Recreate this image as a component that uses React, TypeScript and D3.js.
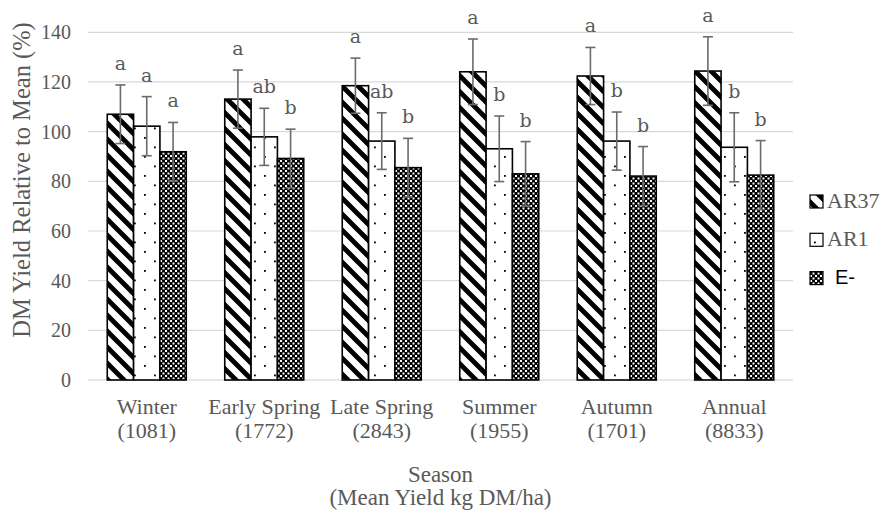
import React from 'react';
import * as d3 from 'd3';

const categories = ['Winter', 'Early Spring', 'Late Spring', 'Summer', 'Autumn', 'Annual'];
const meanYields = ['(1081)', '(1772)', '(2843)', '(1955)', '(1701)', '(8833)'];
const seriesNames = ['AR37', 'AR1', 'E-'];

const ar37Values = [107.0, 113.1, 118.5, 124.1, 122.4, 124.4];
const ar37Errors = [11.8, 11.7, 11.1, 13.2, 11.5, 13.8];
const ar37Letters = ['a', 'a', 'a', 'a', 'a', 'a'];

const ar1Values = [102.2, 97.9, 96.2, 93.1, 96.2, 93.7];
const ar1Errors = [11.9, 11.5, 11.4, 13.2, 11.7, 13.9];
const ar1Letters = ['a', 'ab', 'ab', 'b', 'b', 'b'];

const eMinusValues = [91.9, 89.2, 85.5, 83.0, 82.1, 82.5];
const eMinusErrors = [11.8, 11.8, 11.8, 13.0, 11.9, 13.9];
const eMinusLetters = ['a', 'b', 'b', 'b', 'b', 'b'];

const yTicks = [0, 20, 40, 60, 80, 100, 120, 140];

const xTitle = ['Season', '(Mean Yield kg DM/ha)'];
const yTitle = 'DM Yield Relative to Mean (%)';

const W = 882;
const H = 510;
const PLOT = { left: 88, right: 793, top: 32.3, bottom: 380 };
const GROUP_W = 79;
const GREY = '#595959';
const SERIF = '"Liberation Serif", "Times New Roman", serif';
const SANS = '"Liberation Sans", Arial, sans-serif';
const LETTER_FONT = '"DejaVu Serif", Cambria, serif';
const fills = ['url(#pAR37)', 'url(#pAR1)', 'url(#pE)'];

const series = [
  { name: seriesNames[0], values: ar37Values, errors: ar37Errors, letters: ar37Letters },
  { name: seriesNames[1], values: ar1Values, errors: ar1Errors, letters: ar1Letters },
  { name: seriesNames[2], values: eMinusValues, errors: eMinusErrors, letters: eMinusLetters },
];

export default function App() {
  const x0 = d3.scaleBand<string>().domain(categories).range([PLOT.left, PLOT.right]).padding(0);
  const bw = x0.bandwidth();
  const x1 = d3
    .scaleBand<string>()
    .domain(seriesNames)
    .range([(bw - GROUP_W) / 2, (bw + GROUP_W) / 2])
    .padding(0);
  const y = d3.scaleLinear().domain([0, 140]).range([PLOT.bottom, PLOT.top]);

  return (
    <svg
      width={W}
      height={H}
      style={{ position: 'absolute', left: 0, top: 0, background: '#fff' }}
      xmlns="http://www.w3.org/2000/svg"
    >
      <defs>
        <pattern id="pAR37" patternUnits="userSpaceOnUse" width={16} height={16}>
          <rect width={16} height={16} fill="#fff" />
          <path
            d="M-4,-4 L20,20 M-4,12 L4,20 M12,-4 L20,4"
            stroke="#000"
            strokeWidth={4.8}
            fill="none"
          />
        </pattern>
        <pattern id="pAR1" patternUnits="userSpaceOnUse" width={20} height={19}>
          <rect width={20} height={19} fill="#fff" />
          <rect x={4} y={4} width={1.8} height={1.8} fill="#000" />
          <rect x={14} y={13.5} width={1.8} height={1.8} fill="#000" />
        </pattern>
        <pattern id="pE" patternUnits="userSpaceOnUse" width={5} height={5}>
          <rect width={5} height={5} fill="#000" />
          <rect x={0} y={0} width={2} height={2} fill="#fff" />
          <rect x={2.5} y={2.5} width={2} height={2} fill="#fff" />
        </pattern>
      </defs>

      {/* gridlines */}
      {yTicks.map((t) => (
        <line
          key={'g' + t}
          x1={PLOT.left}
          x2={PLOT.right}
          y1={y(t)}
          y2={y(t)}
          stroke={t === 0 ? '#d0d0d0' : '#d9d9d9'}
          strokeWidth={1.2}
        />
      ))}

      {/* y tick labels */}
      {yTicks.map((t) => (
        <text
          key={'t' + t}
          x={71}
          y={y(t)}
          dy="0.35em"
          textAnchor="end"
          fontFamily={SERIF}
          fontSize={20}
          fill={GREY}
        >
          {t}
        </text>
      ))}

      {/* bars */}
      {series.map((s, si) =>
        categories.map((c, ci) => {
          const bx = (x0(c) as number) + (x1(s.name) as number);
          const v = s.values[ci];
          return (
            <rect
              key={s.name + c}
              x={bx}
              y={y(v)}
              width={x1.bandwidth()}
              height={y(0) - y(v)}
              fill={fills[si]}
              stroke="#000"
              strokeWidth={1.6}
            />
          );
        })
      )}

      {/* error bars */}
      {series.map((s) =>
        categories.map((c, ci) => {
          const cx = (x0(c) as number) + (x1(s.name) as number) + x1.bandwidth() / 2;
          const v = s.values[ci];
          const e = s.errors[ci];
          return (
            <g key={'e' + s.name + c} stroke="#6b6b6b" strokeWidth={1.6}>
              <line x1={cx} x2={cx} y1={y(v - e)} y2={y(v + e)} />
              <line x1={cx - 5} x2={cx + 5} y1={y(v + e)} y2={y(v + e)} />
              <line x1={cx - 5} x2={cx + 5} y1={y(v - e)} y2={y(v - e)} />
            </g>
          );
        })
      )}

      {/* significance letters */}
      {series.map((s) =>
        categories.map((c, ci) => {
          const cx = (x0(c) as number) + (x1(s.name) as number) + x1.bandwidth() / 2;
          const top = y(s.values[ci] + s.errors[ci]);
          return (
            <text
              key={'l' + s.name + c}
              x={cx}
              y={top - 15}
              textAnchor="middle"
              fontFamily={LETTER_FONT}
              fontSize={19}
              fill={GREY}
            >
              {s.letters[ci]}
            </text>
          );
        })
      )}

      {/* category labels */}
      {categories.map((c, ci) => {
        const cx = (x0(c) as number) + bw / 2;
        return (
          <g key={'c' + c} fontFamily={SERIF} fontSize={22} fill={GREY} textAnchor="middle">
            <text x={cx} y={414}>
              {c}
            </text>
            <text x={cx} y={438}>
              {meanYields[ci]}
            </text>
          </g>
        );
      })}

      {/* x title */}
      <g fontFamily={SERIF} fontSize={23} fill={GREY} textAnchor="middle">
        <text x={(PLOT.left + PLOT.right) / 2} y={482}>
          {xTitle[0]}
        </text>
        <text x={(PLOT.left + PLOT.right) / 2} y={505}>
          {xTitle[1]}
        </text>
      </g>

      {/* y title */}
      <text
        transform="translate(30,180) rotate(-90)"
        textAnchor="middle"
        fontFamily={SERIF}
        fontSize={24.5}
        fill={GREY}
      >
        {yTitle}
      </text>

      {/* legend */}
      {series.map((s, si) => {
        const ly = 195 + si * 38.3;
        return (
          <g key={'lg' + s.name}>
            <rect x={810} y={ly} width={13} height={13} fill={fills[si]} stroke="#000" strokeWidth={1.2} />
            <text
              x={si === 2 ? 835 : 827}
              y={ly + 12.7}
              fontFamily={si === 2 ? SANS : SERIF}
              fontSize={si === 2 ? 20 : 22}
              fill={si === 2 ? '#000' : GREY}
            >
              {s.name}
            </text>
          </g>
        );
      })}
    </svg>
  );
}
